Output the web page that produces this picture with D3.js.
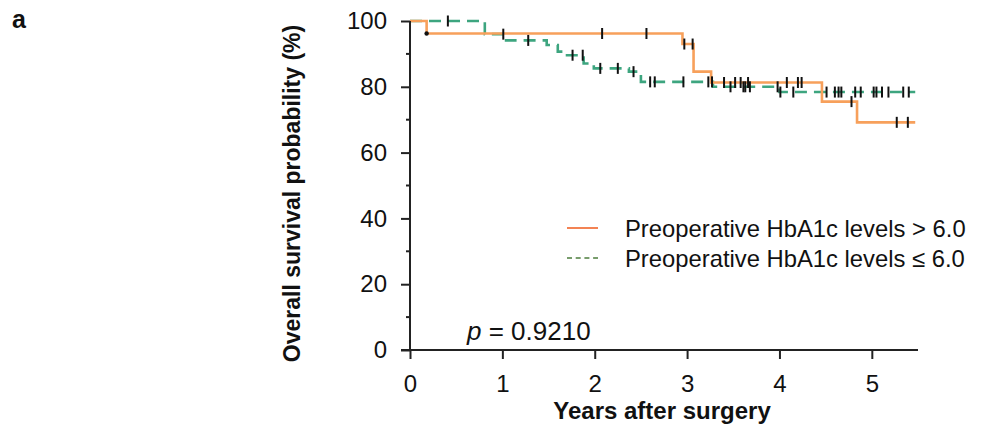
<!DOCTYPE html>
<html>
<head>
<meta charset="utf-8">
<script src="https://cdn.jsdelivr.net/npm/d3@7"></script>
<style>
  html, body { margin: 0; padding: 0; background: #fff; }
  svg { display: block; font-family: "Liberation Sans", Arial, sans-serif; }
</style>
</head>
<body>
<svg id="chart" width="982" height="429"></svg>
<script>
// ---- data ----
const xTicks = [0, 1, 2, 3, 4, 5];
const yTicks = [0, 20, 40, 60, 80, 100];
const yMinorTicks = [10, 30, 50, 70, 90];

// Preoperative HbA1c > 6.0 (orange, solid)
const hiTimes = [0, 0.18, 2.95, 3.07, 3.26, 4.46, 4.84];
const hiSurv  = [100, 96.2, 93.0, 84.6, 81.3, 75.5, 69.2];
const hiEnd = 5.47;
const hiCensor = [2.08, 2.56, 2.97, 3.06, 3.40, 3.52, 3.58, 3.66, 4.08, 4.20, 4.24, 4.78, 5.27, 5.39];
const hiDot = [0.18];

// Preoperative HbA1c <= 6.0 (green, dashed)
const loTimes = [0, 0.81, 1.04, 1.48, 1.60, 1.70, 1.88, 1.99, 2.37, 2.50, 3.28, 4.00];
const loSurv  = [100, 96.0, 94.1, 92.7, 90.7, 89.6, 87.1, 85.6, 84.6, 81.5, 80.0, 78.4];
const loEnd = 5.47;
const loCensor = [0.41, 1.01, 1.28, 1.76, 1.87, 2.06, 2.25, 2.42, 2.60, 2.65, 2.96, 3.23, 3.27,
                  3.47, 3.61, 3.63, 3.68, 3.98, 4.01, 4.15, 4.51, 4.60, 4.64, 4.67, 4.82, 4.88,
                  5.02, 5.05, 5.11, 5.18, 5.34, 5.40];

const legendLabels = ["Preoperative HbA1c levels > 6.0", "Preoperative HbA1c levels \u2264 6.0"];
const pText = "0.9210";

// ---- drawing ----
const svg = d3.select("#chart");
const x = d3.scaleLinear().domain([0, 5.5]).range([410, 918]);
const y = d3.scaleLinear().domain([0, 100]).range([350, 21]);

const colHi = "#F7A05B", colLo = "#3DA57F";
const colHiLeg = "#F0642A", colLoLeg = "#4C7D3C";

function stepPoints(times, surv, end) {
  const pts = [];
  for (let i = 0; i < times.length; i++) {
    if (i > 0) pts.push([times[i], surv[i - 1]]);
    pts.push([times[i], surv[i]]);
  }
  pts.push([end, surv[surv.length - 1]]);
  return pts;
}
function survAt(times, surv, t) {
  let v = surv[0];
  for (let i = 0; i < times.length; i++) if (times[i] <= t) v = surv[i];
  return v;
}
const line = d3.line().x(d => x(d[0])).y(d => y(d[1]));

// curves
svg.append("path").attr("d", line(stepPoints(loTimes, loSurv, loEnd)))
  .attr("fill", "none").attr("stroke", colLo).attr("stroke-width", 2.6)
  .attr("stroke-dasharray", "12,7");
svg.append("path").attr("d", line(stepPoints(hiTimes, hiSurv, hiEnd)))
  .attr("fill", "none").attr("stroke", colHi).attr("stroke-width", 2.6);

// censor marks
function censor(times, survT, survV, list) {
  svg.append("g").selectAll("line").data(list).join("line")
    .attr("x1", d => x(d)).attr("x2", d => x(d))
    .attr("y1", d => y(survAt(survT, survV, d)) - 5.5)
    .attr("y2", d => y(survAt(survT, survV, d)) + 5.5)
    .attr("stroke", "#111").attr("stroke-width", 2);
}
censor(loTimes, loTimes, loSurv, loCensor);
censor(hiTimes, hiTimes, hiSurv, hiCensor);
svg.append("g").selectAll("circle").data(hiDot).join("circle")
  .attr("cx", d => x(d)).attr("cy", d => y(survAt(hiTimes, hiSurv, d)))
  .attr("r", 2.2).attr("fill", "#111");

// axes
const fs = 24;
const yAxis = d3.axisLeft(y).tickValues(yTicks).tickSize(9).tickPadding(14);
const gy = svg.append("g").attr("transform", `translate(${x(0)},0)`).call(yAxis);
gy.select(".domain").remove();
gy.selectAll(".tick line").attr("stroke", "#222").attr("stroke-width", 2);
gy.selectAll(".tick text").attr("font-size", fs).attr("fill", "#111")
  .attr("font-family", "Liberation Sans, Arial, sans-serif");
svg.append("g").selectAll("line").data(yMinorTicks).join("line")
  .attr("x1", x(0) - 4).attr("x2", x(0))
  .attr("y1", d => y(d)).attr("y2", d => y(d))
  .attr("stroke", "#222").attr("stroke-width", 2);

const xAxis = d3.axisBottom(x).tickValues(xTicks).tickSize(9).tickPadding(16).tickFormat(d3.format("d"));
const gx = svg.append("g").attr("transform", `translate(0,${y(0)})`).call(xAxis);
gx.select(".domain").remove();
gx.selectAll(".tick line").attr("stroke", "#222").attr("stroke-width", 2);
gx.selectAll(".tick text").attr("font-size", fs).attr("fill", "#111")
  .attr("font-family", "Liberation Sans, Arial, sans-serif");

// axis lines
svg.append("line").attr("x1", x(0)).attr("x2", x(0)).attr("y1", y(100)).attr("y2", y(0))
  .attr("stroke", "#222").attr("stroke-width", 2);
svg.append("line").attr("x1", x(0) - 9).attr("x2", x(5.5)).attr("y1", y(0)).attr("y2", y(0))
  .attr("stroke", "#222").attr("stroke-width", 2);

// axis titles
svg.append("text").attr("x", x(2.75) - 2).attr("y", 419).attr("text-anchor", "middle")
  .attr("font-size", fs).attr("font-weight", "bold").attr("fill", "#111")
  .text("Years after surgery");
svg.append("text").attr("transform", `translate(300,${y(50) + 8}) rotate(-90)`)
  .attr("text-anchor", "middle").attr("font-size", 23).attr("font-weight", "bold").attr("fill", "#111")
  .text("Overall survival probability (%)");

// panel letter
svg.append("text").attr("x", 12).attr("y", 28).attr("font-size", 25).attr("font-weight", "bold")
  .attr("fill", "#111").text("a");

// p value
const pt = svg.append("text").attr("x", 467).attr("y", 340).attr("font-size", 26).attr("fill", "#111");
pt.append("tspan").attr("font-style", "italic").text("p");
pt.append("tspan").text(" = " + pText);

// legend
const legY = [228, 258];
svg.append("line").attr("x1", 567).attr("x2", 598).attr("y1", legY[0]).attr("y2", legY[0])
  .attr("stroke", colHiLeg).attr("stroke-width", 1.6);
svg.append("line").attr("x1", 567).attr("x2", 598).attr("y1", legY[1]).attr("y2", legY[1])
  .attr("stroke", colLoLeg).attr("stroke-width", 1.6).attr("stroke-dasharray", "5,3.7");
svg.append("g").selectAll("text").data(legendLabels).join("text")
  .attr("x", 625).attr("y", (d, i) => legY[i] + 8.5)
  .attr("font-size", 23.8).attr("fill", "#111").text(d => d);
</script>
</body>
</html>
